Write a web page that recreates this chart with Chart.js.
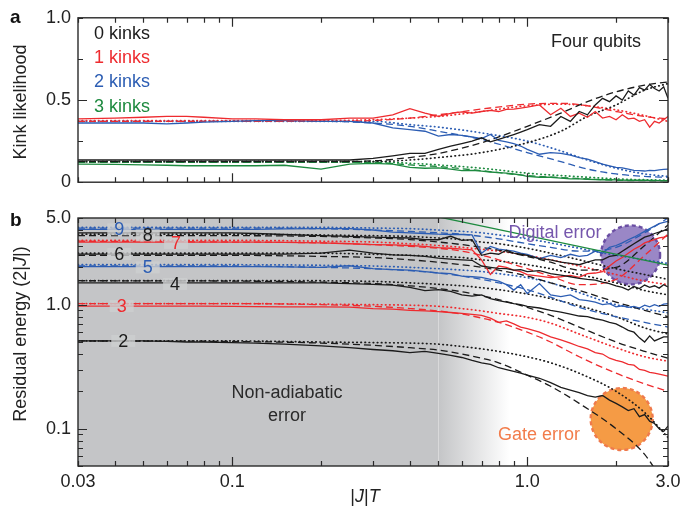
<!DOCTYPE html>
<html>
<head>
<meta charset="utf-8">
<script src="https://cdn.jsdelivr.net/npm/chart.js@4.4.1/dist/chart.umd.min.js"></script>
<style>
  body { margin: 0; background: #fff; }
  #wrap { position: relative; width: 694px; height: 513px; }
  #chartA { position: absolute; left: 0; top: 0; }
  #chartB { position: absolute; left: 0; top: 200px; }
</style>
</head>
<body>
<div id="wrap">
  <canvas id="chartA" width="694" height="200"></canvas>
  <canvas id="chartB" width="694" height="313"></canvas>
</div>
<script>
// ---- data ----
const tExp = [0.03,0.04,0.05,0.06,0.07,0.08,0.1,0.12,0.15,0.2,
  0.25,0.3,0.35,0.4,0.45,0.5,0.55,0.6,0.65,0.7,
  0.75,0.8,0.85,0.9,0.95,1.0,1.1,1.2,1.3,1.4,
  1.5,1.6,1.7,1.8,1.9,2.0,2.1,2.2,2.3,2.4,
  2.5,2.6,2.7,2.8,2.9,3.0];

// panel a: kink likelihood (experiment)
const kink0Exp = [0.135,0.135,0.135,0.135,0.135,0.135,0.135,0.135,0.135,0.135,
  0.135,0.145,0.16,0.175,0.175,0.20,0.22,0.235,0.25,0.27,
  0.245,0.26,0.275,0.29,0.305,0.32,0.35,0.34,0.40,0.37,
  0.43,0.41,0.47,0.51,0.49,0.525,0.50,0.555,0.53,0.575,
  0.56,0.595,0.57,0.555,0.58,0.51];
const kink1Exp = [0.385,0.39,0.395,0.40,0.40,0.395,0.385,0.385,0.38,0.38,
  0.39,0.39,0.41,0.447,0.42,0.40,0.418,0.428,0.42,0.43,
  0.437,0.43,0.443,0.445,0.45,0.457,0.47,0.41,0.45,0.40,
  0.42,0.395,0.43,0.39,0.40,0.38,0.41,0.385,0.39,0.37,
  0.38,0.335,0.37,0.36,0.38,0.40];
const kink2Exp = [0.36,0.36,0.36,0.355,0.36,0.365,0.37,0.375,0.375,0.37,
  0.37,0.36,0.33,0.32,0.31,0.28,0.29,0.285,0.275,0.265,
  0.29,0.255,0.245,0.235,0.22,0.2,0.17,0.18,0.175,0.165,
  0.15,0.14,0.125,0.11,0.10,0.09,0.087,0.08,0.072,0.07,
  0.068,0.072,0.07,0.075,0.078,0.08];
const kink3Exp = [0.11,0.108,0.105,0.103,0.10,0.10,0.10,0.10,0.103,0.08,
  0.11,0.115,0.11,0.09,0.085,0.087,0.08,0.07,0.072,0.067,
  0.062,0.058,0.055,0.05,0.045,0.035,0.03,0.03,0.025,0.02,
  0.02,0.018,0.016,0.015,0.015,0.014,0.013,0.012,0.012,0.012,
  0.012,0.011,0.011,0.01,0.01,0.01];

// panel a: simulations
const tSimA = [0.03,0.1,0.2,0.3,0.4,0.5,0.7,1.0,1.3,1.6,2.0,2.5,3.0];
const kink0Dash = [0.125,0.125,0.125,0.13,0.15,0.175,0.24,0.34,0.42,0.49,0.55,0.59,0.61];
const kink0Dot  = [0.125,0.125,0.125,0.125,0.135,0.15,0.18,0.24,0.31,0.40,0.47,0.56,0.60];
const kink1Dash = [0.37,0.37,0.37,0.375,0.39,0.41,0.445,0.475,0.48,0.465,0.43,0.40,0.385];
const kink1Dot  = [0.375,0.375,0.375,0.38,0.39,0.40,0.43,0.465,0.475,0.465,0.44,0.405,0.37];
const kink2Dash = [0.37,0.37,0.37,0.36,0.34,0.31,0.26,0.18,0.125,0.08,0.05,0.035,0.03];
const kink2Dot  = [0.37,0.37,0.37,0.37,0.35,0.335,0.30,0.25,0.19,0.135,0.085,0.05,0.035];
const kink3Dash = [0.12,0.12,0.12,0.12,0.105,0.095,0.07,0.04,0.028,0.02,0.012,0.009,0.008];
const kink3Dot  = [0.125,0.125,0.125,0.125,0.115,0.105,0.085,0.055,0.04,0.03,0.02,0.015,0.012];
const kinkNames = ['0 kinks','1 kinks','2 kinks','3 kinks'];

// panel b: residual energy (experiment), levels 2..9
const e2Exp = [0.51,0.51,0.51,0.505,0.50,0.50,0.495,0.49,0.48,0.465,
  0.45,0.435,0.425,0.41,0.42,0.405,0.39,0.375,0.355,0.34,
  0.33,0.31,0.30,0.29,0.28,0.27,0.255,0.235,0.215,0.205,
  0.195,0.185,0.18,0.185,0.17,0.16,0.15,0.14,0.145,0.125,
  0.13,0.115,0.11,0.10,0.095,0.105];
const e3Exp = [0.975,0.975,0.975,0.975,0.975,0.975,0.97,0.965,0.96,0.96,
  0.955,0.93,0.92,0.90,0.89,0.88,0.865,0.85,0.835,0.82,
  0.78,0.72,0.74,0.70,0.66,0.64,0.60,0.55,0.52,0.49,
  0.46,0.44,0.41,0.40,0.37,0.355,0.345,0.33,0.325,0.30,
  0.295,0.285,0.28,0.275,0.27,0.265];
const e4Exp = [1.5,1.5,1.5,1.5,1.5,1.5,1.5,1.5,1.5,1.5,
  1.48,1.46,1.44,1.38,1.30,1.32,1.28,1.2,1.17,1.2,
  1.12,1.08,1.05,1.02,1.0,0.97,0.94,0.90,0.87,0.84,
  0.81,0.80,0.77,0.75,0.72,0.70,0.66,0.62,0.60,0.54,
  0.50,0.56,0.51,0.53,0.55,0.55];
const e5Exp = [2.03,2.03,2.03,2.03,2.03,2.03,2.03,2.03,2.02,2.0,
  2.06,1.95,1.92,1.9,1.85,1.8,1.78,1.7,1.68,1.66,
  1.6,1.55,1.45,1.31,1.45,1.23,1.48,1.2,1.16,1.2,
  1.1,1.08,1.05,1.0,1.02,0.96,0.98,0.95,0.97,0.94,
  0.99,0.96,1.0,0.97,1.01,1.02];
const e6Exp = [2.56,2.56,2.56,2.56,2.56,2.56,2.56,2.56,2.56,2.6,
  2.75,2.6,2.52,2.5,2.45,2.37,2.33,2.3,2.28,2.05,
  2.0,1.96,1.95,1.9,1.92,1.85,1.88,1.78,1.73,1.68,
  1.63,1.6,1.58,1.52,1.48,1.42,1.38,1.31,1.4,1.35,
  1.44,1.38,1.42,1.36,1.45,1.39];
const e7Exp = [3.2,3.2,3.2,3.2,3.2,3.2,3.2,3.2,3.18,3.15,
  3.1,3.05,3.03,3.0,2.95,2.88,2.85,2.8,2.77,2.3,
  1.75,2.05,2.0,1.9,1.85,1.75,1.7,1.65,1.68,1.72,
  1.66,1.78,1.8,1.85,2.05,2.25,2.4,2.6,2.8,2.95,
  3.15,3.25,3.35,3.45,3.5,3.6];
const e8Exp = [3.8,3.8,3.8,3.8,3.8,3.8,3.8,3.75,3.68,3.6,
  3.55,3.5,3.47,3.45,3.35,3.34,3.56,3.3,3.35,2.5,
  2.6,2.55,2.75,2.6,2.55,2.5,2.35,2.3,2.2,2.15,
  2.1,2.2,2.3,2.3,2.45,2.5,2.7,2.9,3.1,3.3,
  3.5,3.6,3.75,3.85,3.95,4.1];
const e9Exp = [4.05,4.05,4.05,4.05,4.05,4.05,4.05,4.05,4.08,4.1,
  4.1,4.0,3.85,3.8,3.75,3.7,3.68,3.68,3.65,2.6,
  2.95,2.8,2.75,2.7,2.6,2.55,2.35,2.5,2.4,2.55,
  2.45,2.5,2.7,2.6,2.9,3.0,3.15,3.34,3.5,3.7,
  3.9,4.1,4.3,4.5,4.6,4.7];

// panel b: simulations
const tSimB = [0.03,0.1,0.2,0.3,0.4,0.5,0.6,0.7,0.8,1.0,1.2,1.5,2.0,2.5,3.0];
const e2Dash = [0.51,0.505,0.49,0.47,0.45,0.43,0.40,0.37,0.34,0.27,0.22,0.16,0.10,0.062,0.032];
const e2Dot  = [0.51,0.51,0.5,0.495,0.49,0.48,0.46,0.44,0.42,0.38,0.34,0.28,0.2,0.135,0.085];
const e3Dash = [1.02,1.02,1.0,0.97,0.93,0.89,0.84,0.78,0.72,0.60,0.5,0.38,0.28,0.23,0.2];
const e3Dot  = [1.02,1.02,1.01,1.0,0.99,0.97,0.93,0.89,0.85,0.79,0.71,0.58,0.45,0.38,0.35];
const e4Dash = [1.56,1.55,1.52,1.48,1.42,1.35,1.27,1.18,1.1,0.95,0.82,0.66,0.5,0.42,0.37];
const e4Dot  = [1.56,1.56,1.56,1.54,1.5,1.46,1.42,1.37,1.32,1.22,1.12,0.98,0.8,0.65,0.58];
const e5Dash = [2.05,2.05,2.0,1.95,1.88,1.8,1.7,1.6,1.5,1.32,1.15,0.95,0.8,0.72,0.66];
const e5Dot  = [2.1,2.1,2.08,2.05,2.0,1.95,1.9,1.85,1.78,1.65,1.5,1.25,1.0,0.92,0.86];
const e6Dash = [2.5,2.5,2.45,2.4,2.3,2.2,2.1,2.0,1.9,1.7,1.5,1.3,1.05,0.9,0.8];
const e6Dot  = [2.6,2.6,2.6,2.55,2.5,2.45,2.4,2.3,2.25,2.1,1.95,1.75,1.5,1.3,1.2];
const e7Dash = [3.25,3.2,3.15,3.05,2.95,2.85,2.7,2.5,2.3,1.95,1.7,1.45,1.6,2.5,3.7];
const e7Dot  = [3.3,3.3,3.25,3.2,3.1,3.0,2.9,2.8,2.7,2.5,2.3,2.05,1.75,1.55,1.45];
const e8Dash = [3.6,3.6,3.55,3.45,3.35,3.2,3.05,2.9,2.75,2.45,2.2,1.9,2.0,3.0,4.4];
const e8Dot  = [3.7,3.7,3.65,3.6,3.55,3.45,3.35,3.2,3.1,2.85,2.6,2.3,1.95,1.75,1.6];
const e9Dash = [4.15,4.15,4.1,4.0,3.9,3.8,3.7,3.55,3.4,3.1,2.9,2.7,2.9,3.8,5.0];
const e9Dot  = [4.2,4.2,4.2,4.15,4.1,4.0,3.9,3.8,3.65,3.4,3.15,2.85,2.5,2.3,2.15];

// digital error bound
const tDigital = [0.5, 3.0];
const eDigital = [5.1, 2.08];

const levelNames = ['2','3','4','5','6','7','8','9'];

// ticks
const xTicks = [0.03,0.04,0.05,0.06,0.07,0.08,0.09,0.1,0.2,0.3,0.4,0.5,0.6,0.7,0.8,0.9,1,2,3];
const xLabelVals = [0.03, 0.1, 1, 3];
const xLabelText = ['0.03', '0.1', '1.0', '3.0'];
const yTicksA = [0, 0.25, 0.5, 0.75, 1];
const yLabelValsA = [0, 0.5, 1];
const yLabelTextA = ['0', '0.5', '1.0'];
const yTicksB = [0.05,0.06,0.07,0.08,0.09,0.1,0.2,0.3,0.4,0.5,0.6,0.7,0.8,0.9,1,2,3,4,5];
const yLabelValsB = [0.1, 1, 5];
const yLabelTextB = ['0.1', '1.0', '5.0'];

// ---- styling ----
const FONT = '"Liberation Sans", Arial, Helvetica, sans-serif';
const K = '#1b1b1b', R = '#ee2b2f', B = '#2c5db3', G = '#1d8a3f';
const kinkColors = [K, R, B, G];
const levelColors = [K, R, K, B, K, R, K, B];
// where the level numbers sit (T, E)
const levelLabelAt = [[0.0427,0.51],[0.0422,0.975],[0.064,1.47],[0.0517,2.0],
  [0.0414,2.56],[0.0645,3.15],[0.0517,3.62],[0.0414,4.05]];

Chart.defaults.font.family = FONT;
Chart.defaults.font.size = 18;
Chart.defaults.color = '#222';

function line(xs, ys, color, style) {
  const ds = {
    data: xs.map((x, i) => ({x: x, y: ys[i]})),
    borderColor: color, borderWidth: 1.3,
    pointRadius: 0, fill: false, tension: 0
  };
  if (style === 'dash') {
    ds.borderDash = [7, 4];
    ds.cubicInterpolationMode = 'monotone';
  } else if (style === 'dot') {
    ds.borderDash = [0.5, 3.6];
    ds.borderCapStyle = 'round';
    ds.borderWidth = 1.7;
    ds.cubicInterpolationMode = 'monotone';
  }
  return ds;
}

function labelFor(vals, texts) {
  return v => {
    const i = vals.findIndex(a => Math.abs(a - v) < 1e-9);
    return i >= 0 ? texts[i] : '';
  };
}
function isMajor(vals, v) {
  return vals.some(a => Math.abs(a - v) < 1e-9);
}

// inward ticks on all four sides + frame
const frameTicks = {
  id: 'frameTicks',
  afterDraw(chart, args, opts) {
    const {ctx, chartArea: a} = chart;
    const x = chart.scales.x, y = chart.scales.y;
    ctx.save();
    ctx.strokeStyle = '#2a2a2a';
    ctx.lineWidth = 1.2;
    ctx.beginPath();
    x.ticks.forEach(t => {
      const px = Math.round(x.getPixelForValue(t.value)) + 0.5;
      const len = isMajor(opts.xMajor, t.value) ? 9 : 5;
      ctx.moveTo(px, a.bottom); ctx.lineTo(px, a.bottom - len);
      ctx.moveTo(px, a.top); ctx.lineTo(px, a.top + len);
    });
    y.ticks.forEach(t => {
      const py = Math.round(y.getPixelForValue(t.value)) + 0.5;
      const len = isMajor(opts.yMajor, t.value) ? 9 : 5;
      ctx.moveTo(a.left, py); ctx.lineTo(a.left + len, py);
      ctx.moveTo(a.right, py); ctx.lineTo(a.right - len, py);
    });
    ctx.stroke();
    ctx.lineWidth = 1.4;
    ctx.strokeRect(a.left, a.top, a.width, a.height);
    ctx.restore();
  }
};

function drawRich(ctx, parts, cx, cy, size) {
  const fonts = parts.map(p => (p[1] ? 'italic ' : '') + size + 'px ' + FONT);
  let total = 0;
  const ws = parts.map((p, i) => { ctx.font = fonts[i]; const w = ctx.measureText(p[0]).width; total += w; return w; });
  let x = cx - total / 2;
  ctx.textAlign = 'left';
  parts.forEach((p, i) => { ctx.font = fonts[i]; ctx.fillText(p[0], x, cy); x += ws[i]; });
}

const panelAText = {
  id: 'panelAText',
  afterDraw(chart) {
    const ctx = chart.ctx;
    ctx.save();
    ctx.textBaseline = 'middle';
    ctx.textAlign = 'left';
    ctx.fillStyle = '#111';
    ctx.font = 'bold 19px ' + FONT;
    ctx.fillText('a', 10, 18);
    ctx.font = '18px ' + FONT;
    kinkNames.forEach((n, i) => {
      ctx.fillStyle = kinkColors[i];
      ctx.fillText(n, 94, 34 + i * 24.2);
    });
    ctx.fillStyle = '#222';
    ctx.textAlign = 'center';
    ctx.fillText('Four qubits', 596, 42);
    ctx.translate(21, 102);
    ctx.rotate(-Math.PI / 2);
    ctx.fillText('Kink likelihood', 0, 0);
    ctx.restore();
  }
};

// gray non-adiabatic region and error circles (under the lines)
const panelBBack = {
  id: 'panelBBack',
  beforeDatasetsDraw(chart) {
    const {ctx, chartArea: a} = chart;
    const x = chart.scales.x, y = chart.scales.y;
    const x0 = x.getPixelForValue(0.5), x1 = x.getPixelForValue(0.87);
    ctx.save();
    ctx.fillStyle = '#c4c5c7';
    ctx.fillRect(a.left, a.top, x0 - a.left, a.height);
    const g = ctx.createLinearGradient(x0, 0, x1, 0);
    g.addColorStop(0, '#c4c5c7');
    g.addColorStop(1, 'rgba(255,255,255,1)');
    ctx.fillStyle = g;
    ctx.fillRect(x0, a.top, x1 - x0, a.height);
    ctx.strokeStyle = '#d9d9da';
    ctx.lineWidth = 1;
    ctx.beginPath();
    ctx.moveTo(Math.round(x0) + 0.5, a.top); ctx.lineTo(Math.round(x0) + 0.5, a.bottom);
    ctx.stroke();

    ctx.setLineDash([4, 3]);
    ctx.lineWidth = 2.4;
    // digital error circle
    ctx.beginPath();
    ctx.arc(x.getPixelForValue(2.24), y.getPixelForValue(2.52), 29.5, 0, Math.PI * 2);
    ctx.fillStyle = '#9a87c6';
    ctx.fill();
    ctx.strokeStyle = '#6a4ea3';
    ctx.stroke();
    // gate error circle
    ctx.beginPath();
    ctx.arc(x.getPixelForValue(2.09), y.getPixelForValue(0.1196), 31, 0, Math.PI * 2);
    ctx.fillStyle = '#f59b45';
    ctx.fill();
    ctx.strokeStyle = '#ef7a4c';
    ctx.stroke();
    ctx.restore();
  },
  afterDatasetsDraw(chart) {
    const ctx = chart.ctx;
    const x = chart.scales.x, y = chart.scales.y;
    ctx.save();
    ctx.font = '18px ' + FONT;
    ctx.textAlign = 'center';
    ctx.textBaseline = 'middle';
    levelNames.forEach((n, i) => {
      const px = x.getPixelForValue(levelLabelAt[i][0]);
      const py = y.getPixelForValue(levelLabelAt[i][1]);
      const w = ctx.measureText(n).width;
      ctx.fillStyle = 'rgba(205,206,207,0.8)';
      ctx.fillRect(px - w / 2 - 7, py - 6, w + 14, 12);
      ctx.fillStyle = levelColors[i];
      ctx.fillText(n, px, py + 1);
    });
    ctx.restore();
  }
};

const panelBText = {
  id: 'panelBText',
  afterDraw(chart) {
    const ctx = chart.ctx;
    ctx.save();
    ctx.textBaseline = 'middle';
    ctx.textAlign = 'left';
    ctx.fillStyle = '#111';
    ctx.font = 'bold 19px ' + FONT;
    ctx.fillText('b', 10, 21);
    ctx.font = '18px ' + FONT;
    ctx.textAlign = 'center';
    ctx.fillStyle = '#2a2a2a';
    ctx.fillText('Non-adiabatic', 287, 193);
    ctx.fillText('error', 287, 216);
    ctx.fillStyle = '#7657ad';
    ctx.fillText('Digital error', 555, 33);
    ctx.fillStyle = '#f27c4b';
    ctx.fillText('Gate error', 539, 235);
    ctx.fillStyle = '#222';
    drawRich(ctx, [['|', false], ['J', true], ['|', false], ['T', true]], 365, 297, 18);
    ctx.translate(21, 134);
    ctx.rotate(-Math.PI / 2);
    drawRich(ctx, [['Residual energy (2|', false], ['J', true], ['|)', false]], 0, 0, 18);
    ctx.restore();
  }
};

function xScale(showLabels, h) {
  return {
    type: 'logarithmic', min: 0.03, max: 3,
    grid: {display: false, drawTicks: false}, border: {display: false},
    ticks: {display: showLabels, padding: 5, maxRotation: 0, autoSkip: false,
      callback: labelFor(xLabelVals, xLabelText)},
    afterBuildTicks: s => { s.ticks = xTicks.map(v => ({value: v})); },
    afterFit: s => { s.height = h; }
  };
}

// ---- panel a ----
new Chart(document.getElementById('chartA'), {
  type: 'line',
  data: {
    datasets: [
      line(tExp, kink0Exp, K), line(tExp, kink1Exp, R), line(tExp, kink2Exp, B), line(tExp, kink3Exp, G),
      line(tSimA, kink0Dash, K, 'dash'), line(tSimA, kink1Dash, R, 'dash'),
      line(tSimA, kink2Dash, B, 'dash'), line(tSimA, kink3Dash, G, 'dash'),
      line(tSimA, kink0Dot, K, 'dot'), line(tSimA, kink1Dot, R, 'dot'),
      line(tSimA, kink2Dot, B, 'dot'), line(tSimA, kink3Dot, G, 'dot')
    ]
  },
  options: {
    responsive: false, animation: false,
    layout: {padding: {top: 16, right: 26, bottom: 13, left: 0}},
    plugins: {legend: {display: false}, tooltip: {enabled: false},
      frameTicks: {xMajor: [0.1, 1], yMajor: [0.5]}},
    scales: {
      x: xScale(false, 0),
      y: {
        type: 'linear', min: 0, max: 1,
        grid: {display: false, drawTicks: false}, border: {display: false},
        ticks: {padding: 7, autoSkip: false, callback: labelFor(yLabelValsA, yLabelTextA)},
        afterBuildTicks: s => { s.ticks = yTicksA.map(v => ({value: v})); },
        afterFit: s => { s.width = 78; }
      }
    }
  },
  plugins: [frameTicks, panelAText]
});

// ---- panel b ----
const expB = [e2Exp, e3Exp, e4Exp, e5Exp, e6Exp, e7Exp, e8Exp, e9Exp];
const dashB = [e2Dash, e3Dash, e4Dash, e5Dash, e6Dash, e7Dash, e8Dash, e9Dash];
const dotB = [e2Dot, e3Dot, e4Dot, e5Dot, e6Dot, e7Dot, e8Dot, e9Dot];
const setsB = [line(tDigital, eDigital, G)];
expB.forEach((s, i) => setsB.push(line(tExp, s, levelColors[i])));
dashB.forEach((s, i) => setsB.push(line(tSimB, s, levelColors[i], 'dash')));
dotB.forEach((s, i) => setsB.push(line(tSimB, s, levelColors[i], 'dot')));

new Chart(document.getElementById('chartB'), {
  type: 'line',
  data: {datasets: setsB},
  options: {
    responsive: false, animation: false,
    layout: {padding: {top: 18, right: 26, bottom: 0, left: 0}},
    plugins: {legend: {display: false}, tooltip: {enabled: false},
      frameTicks: {xMajor: [0.1, 1], yMajor: [0.1, 1]}},
    scales: {
      x: xScale(true, 47),
      y: {
        type: 'logarithmic', min: 0.05, max: 5,
        grid: {display: false, drawTicks: false}, border: {display: false},
        ticks: {padding: 7, autoSkip: false, callback: labelFor(yLabelValsB, yLabelTextB)},
        afterBuildTicks: s => { s.ticks = yTicksB.map(v => ({value: v})); },
        afterFit: s => { s.width = 78; }
      }
    }
  },
  plugins: [panelBBack, frameTicks, panelBText]
});
</script>
</body>
</html>
